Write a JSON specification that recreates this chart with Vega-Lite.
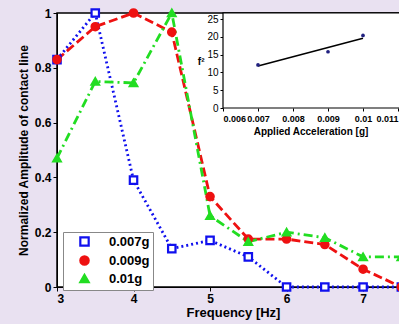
{
  "$schema": "https://vega.github.io/schema/vega-lite/v6.json",
  "width": 352,
  "height": 274,
  "autosize": "none",
  "padding": {"left": 57, "top": 13, "right": 0, "bottom": 37},
  "background": "#e9e1f1",
  "config": {
    "font": "Liberation Sans",
    "view": {"stroke": "black", "strokeWidth": 1.5, "fill": "white"},
    "axis": {"grid": false, "domainColor": "black", "tickColor": "black", "labelColor": "black", "titleColor": "black"}
  },
  "datasets": {
    "main": [
      {"freq": 3, "amp": 0.83, "series": "0.007g"},
      {"freq": 3.5, "amp": 1.0, "series": "0.007g"},
      {"freq": 4, "amp": 0.39, "series": "0.007g"},
      {"freq": 4.5, "amp": 0.14, "series": "0.007g"},
      {"freq": 5, "amp": 0.17, "series": "0.007g"},
      {"freq": 5.5, "amp": 0.11, "series": "0.007g"},
      {"freq": 6, "amp": 0.0, "series": "0.007g"},
      {"freq": 6.5, "amp": 0.0, "series": "0.007g"},
      {"freq": 7, "amp": 0.0, "series": "0.007g"},
      {"freq": 7.5, "amp": 0.0, "series": "0.007g"},
      {"freq": 3, "amp": 0.83, "series": "0.009g"},
      {"freq": 3.5, "amp": 0.95, "series": "0.009g"},
      {"freq": 4, "amp": 1.0, "series": "0.009g"},
      {"freq": 4.5, "amp": 0.93, "series": "0.009g"},
      {"freq": 5, "amp": 0.33, "series": "0.009g"},
      {"freq": 5.5, "amp": 0.175, "series": "0.009g"},
      {"freq": 6, "amp": 0.175, "series": "0.009g"},
      {"freq": 6.5, "amp": 0.155, "series": "0.009g"},
      {"freq": 7, "amp": 0.065, "series": "0.009g"},
      {"freq": 7.5, "amp": 0.0, "series": "0.009g"},
      {"freq": 3, "amp": 0.47, "series": "0.01g"},
      {"freq": 3.5, "amp": 0.75, "series": "0.01g"},
      {"freq": 4, "amp": 0.745, "series": "0.01g"},
      {"freq": 4.5, "amp": 1.0, "series": "0.01g"},
      {"freq": 5, "amp": 0.26, "series": "0.01g"},
      {"freq": 5.5, "amp": 0.165, "series": "0.01g"},
      {"freq": 6, "amp": 0.2, "series": "0.01g"},
      {"freq": 6.5, "amp": 0.18, "series": "0.01g"},
      {"freq": 7, "amp": 0.11, "series": "0.01g"},
      {"freq": 7.5, "amp": 0.11, "series": "0.01g"}
    ],
    "insetPts": [
      {"acc": 0.007, "f2": 12.1},
      {"acc": 0.009, "f2": 15.8},
      {"acc": 0.01, "f2": 20.4}
    ],
    "insetFit": [
      {"acc": 0.007, "f2": 11.8},
      {"acc": 0.01, "f2": 19.6}
    ],
    "insetBox": [
      {"x1": 0.006, "x2": 0.0116, "y1": 0, "y2": 26.7}
    ]
  },
  "layer": [
    {
      "data": {"name": "main"},
      "encoding": {
        "x": {
          "field": "freq", "type": "quantitative",
          "scale": {"domain": [3, 7.6], "nice": false},
          "axis": {"values": [3, 4, 5, 6, 7], "title": "Frequency [Hz]", "labelFontSize": 12, "labelFontWeight": "bold", "titleFontSize": 13, "titleFontWeight": "bold", "titlePadding": 2, "tickSize": 4, "labelPadding": 2}
        },
        "y": {
          "field": "amp", "type": "quantitative",
          "scale": {"domain": [0, 1], "nice": false},
          "axis": {"values": [0, 0.2, 0.4, 0.6, 0.8, 1], "format": "~g", "title": "Normalized Amplitude of contact line", "labelFontSize": 12, "labelFontWeight": "bold", "titleFontSize": 12, "titleFontWeight": "bold", "titlePadding": 4, "tickSize": 4, "labelPadding": 2}
        },
        "stroke": {"field": "series", "type": "nominal", "scale": {"domain": ["0.007g", "0.009g", "0.01g"], "range": ["#1010ee", "#ee1111", "#22dd22"]},
          "legend": {"title": null, "orient": "none", "legendX": 6, "legendY": 219, "fillColor": "white", "strokeColor": "#888", "padding": 3, "labelFontSize": 13, "labelFontWeight": "bold", "symbolStrokeWidth": 2.2, "symbolSize": 70, "symbolOffset": 12, "labelOffset": 18, "rowPadding": 0, "labelColor": "black"}}
      },
      "layer": [
        {
          "transform": [{"filter": "datum.series === '0.007g'"}],
          "mark": {"type": "line", "strokeWidth": 2.8, "strokeDash": [2, 3]}
        },
        {
          "transform": [{"filter": "datum.series === '0.009g'"}],
          "mark": {"type": "line", "strokeWidth": 2.8, "strokeDash": [9, 4]}
        },
        {
          "transform": [{"filter": "datum.series === '0.01g'"}],
          "mark": {"type": "line", "strokeWidth": 2.8, "strokeDash": [9, 4, 2, 4]}
        },
        {
          "mark": {"type": "point", "size": 55, "strokeWidth": 2.2, "opacity": 1},
          "encoding": {
            "fill": {"field": "series", "type": "nominal", "scale": {"domain": ["0.007g", "0.009g", "0.01g"], "range": ["#ffffff", "#ee1111", "#22dd22"]}},
            "shape": {"field": "series", "type": "nominal", "scale": {"domain": ["0.007g", "0.009g", "0.01g"], "range": ["square", "circle", "triangle-up"]}}
          }
        }
      ]
    },
    {
      "layer": [
        {
          "data": {"name": "insetBox"},
          "mark": {"type": "rect", "fill": "white", "stroke": "black", "strokeWidth": 1.2, "clip": false},
          "encoding": {
            "x": {"field": "x1", "type": "quantitative", "scale": {"domain": [0.006, 0.011], "range": [166, 341], "nice": false, "zero": false},
              "axis": {"orient": "bottom", "offset": -179, "values": [0.006, 0.007, 0.008, 0.009, 0.01, 0.011], "format": "~g", "title": "Applied Acceleration [g]", "labelFontSize": 9, "labelFontWeight": "bold", "titleFontSize": 10, "titleFontWeight": "bold", "tickSize": 3, "labelPadding": 3, "titlePadding": 3, "domain": false}},
            "x2": {"field": "x2"},
            "y": {"field": "y1", "type": "quantitative", "scale": {"domain": [0, 25], "range": [95, 6], "nice": false},
              "axis": {"orient": "left", "offset": -166, "values": [0, 5, 10, 15, 20, 25], "title": "f²", "titleAngle": 0, "titleFontSize": 10, "titleFontWeight": "bold", "titleX": -19, "titleY": 48, "titleAlign": "right", "titleBaseline": "middle", "labelFontSize": 10, "tickSize": 3, "labelPadding": 2, "domain": false}},
            "y2": {"field": "y2"}
          }
        },
        {
          "data": {"name": "insetFit"},
          "mark": {"type": "line", "color": "black", "strokeWidth": 1.5},
          "encoding": {
            "x": {"field": "acc", "type": "quantitative"},
            "y": {"field": "f2", "type": "quantitative"}
          }
        },
        {
          "data": {"name": "insetPts"},
          "mark": {"type": "point", "filled": true, "color": "#202080", "size": 14, "opacity": 1},
          "encoding": {
            "x": {"field": "acc", "type": "quantitative"},
            "y": {"field": "f2", "type": "quantitative"}
          }
        }
      ]
    }
  ],
  "resolve": {"scale": {"x": "independent", "y": "independent", "stroke": "independent", "fill": "independent", "shape": "independent"}, "axis": {"x": "independent", "y": "independent"}}
}
